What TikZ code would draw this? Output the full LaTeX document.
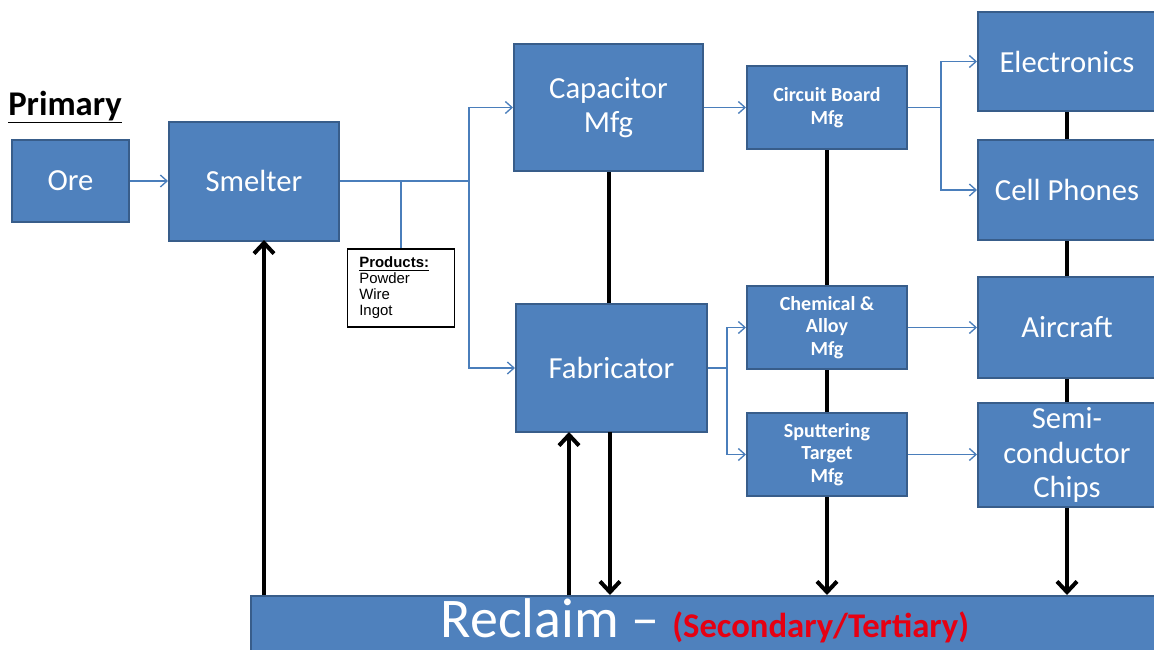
\documentclass[tikz,border=0pt]{standalone}
\usepackage{fontspec}
\setmainfont{Carlito}
\newfontfamily\arialf{Liberation Sans}
\usetikzlibrary{arrows.meta}
\definecolor{boxfill}{RGB}{79,129,189}
\definecolor{boxline}{RGB}{56,93,138}
\definecolor{conn}{RGB}{74,126,187}
\definecolor{redtxt}{RGB}{230,0,18}
\begin{document}
\begin{tikzpicture}[x=0.75pt,y=-0.75pt,
  blk/.style 2 args={draw=boxline, line width=1.5pt, fill=boxfill, text=white,
    font=\fontsize{23}{26}\selectfont, align=center, inner sep=0pt,
    minimum width=#1*0.75pt, minimum height=#2*0.75pt},
  smallblk/.style 2 args={blk={#1}{#2}, font=\bfseries\fontsize{15}{17}\selectfont},
  thin/.style={draw=conn, line width=1pt},
  thinarrow/.style={thin, -{Straight Barb[length=5pt,width=9pt]}},
  thick/.style={draw=black, line width=3pt},
  thickarrow/.style={thick, -{Straight Barb[length=8pt,width=15pt]}}
]
\useasboundingbox (0,0) rectangle (1154,650);
\fill[white] (0,0) rectangle (1154,650);
\clip (0,0) rectangle (1154,650);

% title
\node[anchor=base west, inner sep=0pt, font=\bfseries\fontsize{26}{26}\selectfont] (primary) at (8,115) {\underline{Primary}};

% boxes
\node[blk={117}{82}] (ore) at (70.5,181) {Ore};
\node[blk={170}{119}] (smelter) at (254,181) {Smelter};
\node[blk={189}{127}] (cap) at (608.5,107.5) {Capacitor\\Mfg};
\node[blk={191}{128}] (fab) at (611.5,368) {Fabricator};
\node[smallblk={160}{83}] (cb) at (827,107.5) {Circuit Board\\Mfg};
\node[smallblk={160}{83}] (chem) at (827,327.5) {Chemical \&\\Alloy\\Mfg};
\node[smallblk={160}{83}] (sput) at (827,454.5) {Sputtering\\Target\\Mfg};
\node[blk={178}{99}] (elec) at (1067,61.5) {Electronics};
\node[blk={178}{100}] (cell) at (1067,190) {Cell Phones};
\node[blk={178}{101}] (air) at (1067,327.5) {Aircraft};
\node[blk={178}{104}] (semi) at (1067,455) {Semi-\\conductor\\Chips};
\node[blk={909}{60}] (reclaim) at (705.5,626) {};
\node[anchor=base, inner sep=0pt, text=white, font=\fontsize{42}{42}\selectfont] (reclaimtxt) at (705,637)
  {Reclaim – {\color{redtxt}\bfseries\fontsize{26}{26}\selectfont (Secondary/Tertiary)}};

% products box
\node[draw=black, line width=1pt, fill=white, inner xsep=9pt, inner ysep=0pt,
  text width=62.5pt, minimum height=58.5pt, align=left,
  font=\arialf\fontsize{11.2}{12}\selectfont] (products) at (401,288)
  {\underline{\textbf{Products:}}\\Powder\\Wire\\Ingot};

% junction coordinates
\coordinate (j1) at (469,181);
\coordinate (jp) at (401,181);
\coordinate (j2) at (941,107.5);
\coordinate (j3) at (727,368);
\coordinate (s1) at (264,240);
\coordinate (f1) at (569,432);
\coordinate (f2) at (610,432);

% thin connectors
\draw[thinarrow] (ore) -- (smelter);
\draw[thin] (smelter.east) -- (j1);
\draw[thinarrow] (j1) |- (cap.west);
\draw[thinarrow] (j1) |- (fab.west);
\draw[thin] (jp) -- (products.north);
\draw[thinarrow] (cap.east) -- (cb.west);
\draw[thin] (cb.east) -- (j2);
\draw[thinarrow] (j2) |- (elec.west);
\draw[thinarrow] (j2) |- (cell.west);
\draw[thin] (fab.east) -- (j3);
\draw[thinarrow] (j3) |- (chem.west);
\draw[thinarrow] (j3) |- (sput.west);
\draw[thinarrow] (chem.east) -- (air.west);
\draw[thinarrow] (sput.east) -- (sput.east -| semi.west);

% thick connectors
\draw[thick] (cap.south) -- (cap.south |- fab.north);
\draw[thick] (cb.south) -- (chem.north);
\draw[thick] (chem.south) -- (sput.north);
\draw[thickarrow] (sput.south) -- (sput.south |- reclaim.north);
\draw[thick] (elec.south) -- (cell.north);
\draw[thick] (cell.south) -- (air.north);
\draw[thick] (air.south) -- (semi.north);
\draw[thickarrow] (semi.south) -- (semi.south |- reclaim.north);
\draw[thickarrow] (s1 |- reclaim.north) -- (s1);
\draw[thickarrow] (f1 |- reclaim.north) -- (f1);
\draw[thickarrow] (f2) -- (f2 |- reclaim.north);
\end{tikzpicture}
\end{document}
